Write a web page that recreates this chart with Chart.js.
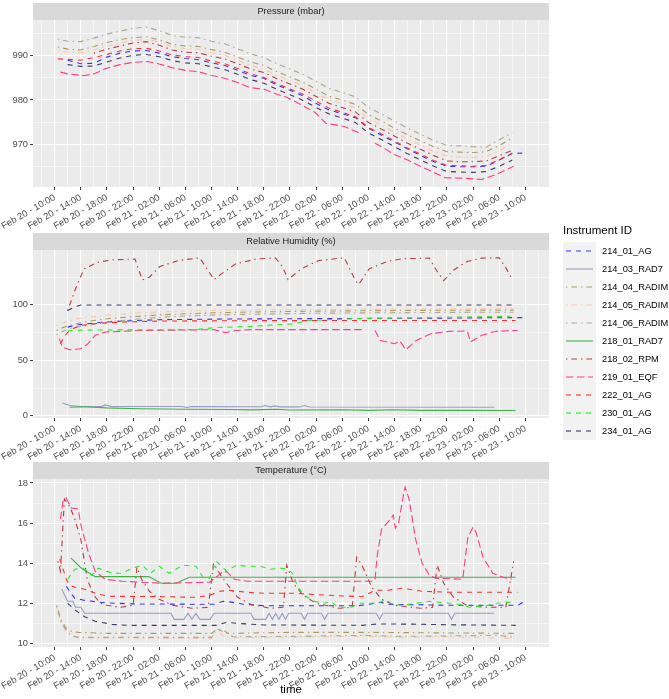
<!DOCTYPE html>
<html>
<head>
<meta charset="utf-8">
<script src="https://cdn.jsdelivr.net/npm/chart.js@4.4.1/dist/chart.umd.min.js"></script>
<style>
  html, body { margin: 0; padding: 0; background: #ffffff; }
  #wrap { position: relative; width: 669px; height: 699px; }
  #wrap canvas { position: absolute; left: 0; top: 0; }
</style>
</head>
<body>
<div id="wrap">
  <canvas id="pressureChart" width="669" height="699"></canvas>
  <canvas id="humidityChart" width="669" height="699"></canvas>
  <canvas id="temperatureChart" width="669" height="699"></canvas>
</div>
<script>
// hours counted from Feb 20 - 10:00
var instruments = ['214_01_AG', '214_03_RAD7', '214_04_RADIM', '214_05_RADIM', '214_06_RADIM',
    '218_01_RAD7', '218_02_RPM', '219_01_EQF', '222_01_AG', '230_01_AG', '234_01_AG'];

var xTickLabels = ['Feb 20 - 10:00', 'Feb 20 - 14:00', 'Feb 20 - 18:00', 'Feb 20 - 22:00',
    'Feb 21 - 02:00', 'Feb 21 - 06:00', 'Feb 21 - 10:00', 'Feb 21 - 14:00', 'Feb 21 - 18:00',
    'Feb 21 - 22:00', 'Feb 22 - 02:00', 'Feb 22 - 06:00', 'Feb 22 - 10:00', 'Feb 22 - 14:00',
    'Feb 22 - 18:00', 'Feb 22 - 22:00', 'Feb 23 - 02:00', 'Feb 23 - 06:00', 'Feb 23 - 10:00'];

// ---- Pressure (mbar) ----
var pressHours = [0.5, 2, 4, 6, 8, 10, 12, 14, 16, 18, 20, 22, 24, 26, 28, 30, 32, 34, 36, 38,
    40, 42, 44, 46, 48, 50, 52, 54, 56, 58, 60, 62, 64, 66, 68, 70, 72];
var p214_01 = [null, 989.0, 988.2, 988.3, 989.7, 990.6, 991.1, 991.2, 990.6, 989.8, 989.4, 989.1, 988.4, 987.8, 986.7, 985.5, 984.9, 983.4, 982.2, 980.9, 979.2, 977.7, 976.9, 976.0, 973.6, 972.0, 970.5, 968.9, 967.4, 966.0, 965.0, 964.9, 964.9, 965.0, 966.4, 967.9, 968.0];
var p214_04 = [992.0, 991.5, 991.3, 992.1, 993.0, 993.7, 994.1, 994.3, 993.6, 992.6, 992.2, 992.1, 991.4, 990.8, 989.7, 988.6, 987.8, 986.4, 985.2, 984.0, 982.4, 980.8, 980.0, 979.0, 976.7, 975.2, 973.6, 972.1, 970.7, 969.4, 968.3, 968.2, 968.1, 968.3, 969.7, 971.4, null];
var p214_05 = [991.1, 990.8, 990.7, 991.3, 992.2, 992.9, 993.5, 993.7, 993.1, 992.0, 991.6, 991.5, 990.7, 990.1, 989.0, 987.8, 987.0, 985.6, 984.4, 983.2, 981.6, 980.0, 979.2, 978.2, 975.8, 974.3, 972.7, 971.1, 969.7, 968.3, 967.3, 967.1, 967.0, 967.2, 968.6, 970.3, null];
var p214_06 = [993.8, 993.3, 993.2, 994.0, 994.9, 995.6, 996.2, 996.5, 995.7, 994.6, 994.2, 994.1, 993.3, 992.7, 991.6, 990.4, 989.6, 988.2, 987.0, 985.8, 984.2, 982.6, 981.7, 980.7, 978.3, 976.8, 975.2, 973.6, 972.2, 970.8, 969.7, 969.6, 969.4, 969.3, 971.0, 972.6, null];
var p218_02 = [null, null, null, 990.6, 991.5, 992.2, 992.9, 993.2, 992.4, 991.3, 990.8, 990.7, 989.9, 989.3, 988.2, 987.0, 986.2, 984.8, 983.6, 982.4, 980.8, 979.2, 978.3, 977.3, 974.9, 973.4, 971.8, 970.2, 968.8, 967.4, 966.2, 966.0, 966.0, 966.2, 967.4, 968.6, null];
var p222_01 = [989.3, 989.2, 989.0, 989.6, 990.3, 991.1, 991.6, 991.7, 991.1, 990.2, 989.8, 989.6, 988.8, 988.2, 987.1, 985.9, 985.1, 983.7, 982.5, 981.3, 979.7, 978.1, 977.2, 976.2, 973.8, 972.3, 970.7, 969.1, 967.7, 966.3, 965.2, 965.1, 965.0, 965.2, 966.5, 968.0, null];
var p234_01 = [null, 988.0, 987.6, 987.7, 988.6, 989.5, 990.1, 990.3, 989.8, 988.9, 988.4, 988.2, 987.5, 986.9, 985.8, 984.6, 983.8, 982.4, 981.2, 979.9, 978.3, 976.8, 975.9, 974.9, 972.5, 971.0, 969.4, 967.8, 966.4, 965.0, 963.8, 963.7, 963.6, 963.8, 965.0, 966.4, null];
// the EQF has a short gap, so it keeps its own hours: [hour, value]
var p219_01 = [[0.9, 986.3], [2, 985.9], [4.5, 985.5], [6, 985.9], [7.8, 987.1], [10, 988.0], [12, 988.5], [14.2, 988.7], [16.1, 988.1], [18, 987.3], [20, 986.7], [22, 986.4], [23.9, 985.6], [26, 984.9], [27.7, 984.1], [29.9, 982.8], [32.1, 982.4], [34, 981.3], [35.5, 980.6], [38, 978.7], [39.9, 977.1], [41.5, 974.7], [44.3, 974.0], [46, 972.9], [47, 972.2], [48, null], [49, 970.2], [50, 969.4], [52, 967.6], [54, 966.4], [55.9, 965.0], [58, 963.6], [59.7, 962.4], [62, 962.3], [63.6, 962.2], [65.3, 962.0], [67.5, 963.1], [70.2, 965.0]];

// ---- Relative Humidity (%) : [hour, value] ----
var h214_01 = [[2, 80], [3, 81.5], [5, 83], [7.5, 84.5], [10.5, 85.5], [16, 86.7], [24, 87.2], [40, 87.7], [56, 88], [72, 88.6]];
var h214_03 = [[1.2, 11.7], [2.3, 9.3], [4, 8.4], [7.2, 8.6], [7.8, 9.9], [8.6, 8.6], [19.5, 8.4], [20.2, 7.6], [21, 8.4], [31.5, 8.3], [32.2, 9.3], [33, 8.1], [33.7, 9.0], [34.5, 8.1], [37.5, 8.1], [38.2, 9.3], [39, 8.0], [67.2, 7.8]];
var h214_04 = [[0.3, 77], [1, 79], [2, 81], [4, 84], [6, 86], [8, 87.5], [12, 89.5], [16, 91], [20, 92], [24, 92.8], [30, 93.6], [36, 94.1], [42, 94.5], [48, 94.8], [54, 95], [60, 95.2], [66, 95.3], [70.2, 95.3]];
var h214_05 = [[0.3, 81.5], [1, 83], [2, 85.5], [4, 88], [6, 89.5], [8, 90.7], [12, 92.5], [16, 93.7], [20, 94.5], [24, 95], [30, 95.5], [36, 95.8], [42, 96], [48, 96.2], [54, 96.3], [60, 96.4], [70.2, 96.4]];
var h214_06 = [[0.3, 73], [1, 75.5], [2, 78], [4, 80.5], [6, 82.5], [8, 84.5], [12, 87], [16, 88.8], [20, 90], [24, 90.8], [30, 91.6], [36, 92.2], [42, 92.6], [48, 92.9], [54, 93.1], [60, 93.3], [70.2, 93.4]];
var h218_01 = [[2.3, 7.8], [4, 8.3], [6, 7.8], [8, 7.2], [13, 6.4], [20, 6.0], [27, 5.8], [30, 5.4], [34, 6.0], [36, 5.3], [44, 5.5], [48, 5.0], [52, 5.6], [56, 5.0], [62, 5.0], [70.5, 4.8]];
var h218_02 = [[2, 94.9], [3.1, 113], [4.5, 132.5], [6.7, 138.6], [8.9, 140.7], [12.3, 141.3], [13.4, 122.6], [14.5, 125], [16.1, 134.6], [18.9, 140], [22.2, 142.5], [23.3, 132.5], [24.4, 122.9], [25.5, 128], [27.7, 137], [31, 141.6], [33.8, 142.2], [34.9, 134], [35.7, 122.9], [37.7, 132.5], [40.4, 140], [44.3, 142.5], [46, 122], [46.5, 118.4], [48.1, 132.5], [50.9, 139.2], [53.1, 141.6], [57.3, 142.2], [58.4, 131], [59.5, 122], [60.9, 131], [63.1, 139.2], [65.3, 142.2], [68, 142.5], [69.1, 132.5], [70, 122.9]];
var h219_01 = [[0.7, 69.6], [1.2, 62], [2.3, 59.6], [4, 60.5], [5.1, 65], [6.2, 72.6], [7.8, 75.6], [13.4, 77], [24.4, 77.7], [25.2, 76.5], [26.1, 75], [27.7, 77], [30, 77.7], [47.3, 77.7], [48, null], [49, 77], [49.8, 68], [52, 65], [52.8, 67.5], [53.7, 59.6], [55.3, 68], [57.5, 74], [60.3, 76.2], [63.1, 76.5], [63.6, 66.6], [65.3, 72.6], [67.5, 76.2], [70.8, 77]];
var h222_01 = [[0.9, 65], [1.5, 72], [2.3, 77], [3.5, 80.5], [5.5, 83], [10.5, 84.6], [16, 85.5], [30, 85.8], [50, 86], [70.5, 86]];
var h230_01 = [[2, 76.5], [4, 77.3], [10, 77.5], [21.6, 77.8], [24.4, 79.5], [30, 80.7], [36.6, 83], [38.8, 86], [46.5, 87.7], [57.5, 88.6], [69.7, 89.8]];
var h234_01 = [[2, 95], [3, 98], [4, 100], [70, 100]];

// ---- Temperature (°C) : [hour, value] ----
var t214_01 = [[1.8, 12.85], [2.5, 12.5], [3.1, 12.25], [4.5, 12.15], [7.8, 12.02], [12, 11.97], [24.4, 11.95], [25.8, 12.1], [26.8, 12.07], [28.9, 11.95], [32, 11.88], [46.5, 11.88], [48, 11.95], [49.8, 12.05], [51, 11.95], [60, 11.9], [70.8, 11.9], [71.9, 12.1]];
var t214_03 = [[1.1, 12.7], [2, 12.1], [2.8, 12.1], [3.2, 11.8], [4, 11.8], [4.6, 11.5], [17.8, 11.5], [18.3, 11.2], [19.8, 11.2], [20.4, 11.5], [21, 11.2], [21.6, 11.5], [22.2, 11.2], [23.8, 11.2], [24.4, 11.5], [30, 11.5], [30.5, 11.2], [32.3, 11.2], [32.8, 11.5], [33.3, 11.2], [33.8, 11.5], [34.3, 11.2], [34.8, 11.5], [35.3, 11.2], [35.8, 11.5], [37.7, 11.5], [38.2, 11.2], [38.7, 11.5], [40.8, 11.5], [41.3, 11.2], [41.8, 11.5], [49.2, 11.5], [49.7, 11.2], [50.2, 11.5], [60.2, 11.5], [60.7, 11.2], [61.2, 11.5], [67.2, 11.5]];
var t214_04 = [[0.3, 11.9], [1, 11.17], [1.8, 10.75], [2.6, 10.6], [3.6, 10.55], [8, 10.5], [24, 10.5], [24.7, 10.67], [25.8, 10.67], [26.5, 10.5], [36, 10.55], [47.5, 10.55], [70.2, 10.5]];
var t214_05 = [[0.3, 11.8], [1, 11.0], [1.8, 10.6], [2.3, 10.4], [3.6, 10.28], [24, 10.25], [24.6, 10.55], [25.5, 10.45], [26.3, 10.28], [47.5, 10.35], [53, 10.3], [60.4, 10.33], [70.2, 10.25]];
var t214_06 = [[0.3, 11.85], [1, 11.05], [1.8, 10.65], [2.6, 10.4], [3.6, 10.3], [24, 10.3], [24.7, 10.75], [26.3, 10.5], [27.3, 10.33], [36, 10.35], [47.5, 10.4], [53, 10.35], [68, 10.4], [70.2, 10.3]];
var t218_01 = [[2.5, 14.25], [4.1, 13.75], [6.2, 13.33], [14.4, 13.33], [16.3, 13.0], [18.6, 13.0], [20.6, 13.3], [70.5, 13.3]];
var t218_02 = [[0.5, 14.1], [0.9, 13.6], [1.5, 17.2], [2.2, 16.9], [3, 16.3], [4, 15.2], [5, 13.2], [6, 12.4], [7, 12.0], [8, 11.9], [10, 11.8], [12, 11.9], [12.6, 13.8], [13.3, 13.2], [14.5, 12.6], [16, 12.2], [18, 11.9], [21, 11.75], [23.5, 11.8], [24.3, 14.0], [25, 13.6], [26.5, 12.9], [28, 12.3], [30, 11.95], [33, 11.75], [35, 11.8], [35.5, 13.9], [36.5, 13.0], [38, 12.4], [40, 12.0], [43.5, 11.75], [45.5, 11.8], [46.2, 14.3], [47, 13.9], [48.5, 12.8], [50, 12.2], [52, 11.9], [56, 11.75], [57.8, 11.8], [58.5, 13.9], [59.5, 13.0], [61, 12.3], [63, 11.9], [66, 11.8], [69, 11.8], [70.2, 14.1]];
var t219_01 = [[0.9, 16.2], [1.3, 17.1], [1.8, 17.25], [2.3, 16.9], [2.6, 16.75], [3.6, 16.7], [4.1, 15.8], [5.2, 14.5], [6.2, 13.6], [7.7, 13.2], [10.3, 13.1], [16.5, 13.0], [23.7, 13.05], [24.7, 13.3], [25.8, 13.6], [26.4, 13.55], [27.5, 13.2], [29.4, 13.1], [48.7, 13.1], [49, 13.2], [49.3, 14.3], [50, 15.7], [51.1, 16.1], [51.8, 16.4], [52.1, 15.75], [52.6, 16.0], [53.4, 17.5], [53.6, 17.8], [54.2, 17.2], [55.2, 15.2], [56.2, 14.0], [57.3, 13.4], [58.3, 13.25], [62.4, 13.2], [62.7, 14.0], [63.2, 15.3], [64, 15.8], [64.5, 15.5], [65.5, 14.3], [67, 13.5], [68.6, 13.3], [69.9, 13.2]];
var t222_01 = [[0.8, 14.2], [1, 14.0], [1.8, 13.2], [2.3, 12.9], [3.1, 12.8], [4.6, 12.7], [6.2, 12.5], [8.2, 12.35], [16.5, 12.33], [21.6, 12.3], [23.7, 12.4], [25.3, 12.6], [26.8, 12.65], [29.4, 12.55], [32, 12.5], [36.6, 12.5], [41.8, 12.4], [47, 12.33], [49, 12.65], [51, 12.65], [53.1, 12.75], [54.2, 12.7], [56.2, 12.6], [60.4, 12.55], [70.8, 12.55]];
var t230_01 = [[2, 13.2], [3.1, 13.7], [4.4, 13.75], [5.7, 13.4], [6.7, 13.75], [8.8, 13.5], [10.3, 13.5], [11.9, 13.75], [13.4, 13.9], [14.7, 13.5], [16, 13.85], [17.5, 13.5], [19.6, 13.9], [21.6, 13.85], [22.7, 13.3], [23.7, 13.25], [24.7, 14.1], [26.3, 13.6], [27.8, 13.9], [29.4, 13.85], [31.4, 13.85], [33, 13.7], [34.6, 13.75], [35.6, 13.7], [36.4, 13.5], [37.2, 12.8], [38.2, 12.4], [39.7, 12.1], [41.3, 12.0], [42.3, 12.1], [43.3, 11.8], [45.4, 11.8], [46.4, 12.0], [49.5, 12.0], [50.6, 12.2], [51.6, 11.95], [53.1, 11.9], [55.2, 12.0], [57.3, 12.1], [60.4, 12.0], [61.9, 11.95], [63.4, 11.8], [65.5, 11.85], [67.6, 12.0], [69.7, 12.05]];
var t234_01 = [[2, 12.0], [3.1, 11.67], [4.6, 11.33], [6.2, 11.1], [8.8, 10.95], [11.3, 10.9], [24.7, 10.9], [26.3, 11.05], [27.8, 11.0], [32, 10.92], [47, 10.9], [49.5, 10.97], [54.7, 10.96], [60, 10.93], [70.5, 10.9]];

// styles, one per instrument
var seriesColors = ['#3030ff', '#9b9bc5', '#ad9a5c', '#ffc3a8', '#a9a98f', '#3cb44b',
    '#b83c3c', '#ff3d80', '#ff2e2e', '#22ee22', '#3b3b6b'];
var dashed = [5, 5], dotdash = [1.4, 4, 5.6, 4], longdash = [7.5, 3.5];
var seriesDash = [dashed, [], dotdash, dotdash, dotdash, [], dotdash, longdash, dashed, dashed, dashed];

var fontFamily = '"Liberation Sans", Arial, Helvetica, sans-serif';
Chart.defaults.font.family = fontFamily;

function zipHours(values) {
    return pressHours.map(function(h, i) { return {x: h, y: values[i]}; });
}
function toPoints(pairs) {
    return pairs.map(function(p) { return {x: p[0], y: p[1]}; });
}

// x ticks every 2 h: majors (labelled) every 4 h, minors in between
var xGrid = [];
for (var v = -2; v <= 74; v += 2) xGrid.push(v);
function isMajorX(v) { return v % 4 === 0 && v >= 0 && v <= 72; }

var panelPlugin = {
    id: 'panel',
    beforeDraw: function(chart, args, opts) {
        var a = chart.chartArea, ctx = chart.ctx;
        ctx.save();
        ctx.fillStyle = '#ebebeb';
        ctx.fillRect(a.left, a.top, a.right - a.left, a.bottom - a.top);
        ctx.fillStyle = '#d9d9d9';
        ctx.fillRect(a.left, a.top - 17, a.right - a.left, 17);
        ctx.fillStyle = '#1a1a1a';
        ctx.font = '9.3px ' + fontFamily;
        ctx.textAlign = 'center';
        ctx.textBaseline = 'middle';
        ctx.fillText(opts.title, (a.left + a.right) / 2, a.top - 8.5);
        if (opts.xTitle) {
            ctx.fillStyle = '#000000';
            ctx.font = '11.5px ' + fontFamily;
            ctx.fillText(opts.xTitle, (a.left + a.right) / 2, 690);
        }
        ctx.restore();
    }
};

var legendPlugin = {
    id: 'instrumentLegend',
    afterDraw: function(chart) {
        var ctx = chart.ctx;
        ctx.save();
        ctx.fillStyle = '#000000';
        ctx.font = '11.5px ' + fontFamily;
        ctx.textAlign = 'left';
        ctx.textBaseline = 'middle';
        ctx.fillText('Instrument ID', 563, 231);
        ctx.fillStyle = '#f2f2f2';
        ctx.fillRect(563, 242, 33, instruments.length * 18);
        ctx.font = '9.3px ' + fontFamily;
        instruments.forEach(function(name, i) {
            var y = 251 + i * 18;
            ctx.strokeStyle = seriesColors[i];
            ctx.lineWidth = 1.1;
            ctx.setLineDash(seriesDash[i]);
            ctx.beginPath();
            ctx.moveTo(566, y);
            ctx.lineTo(593, y);
            ctx.stroke();
            ctx.setLineDash([]);
            ctx.fillStyle = '#000000';
            ctx.fillText(name, 602, y);
        });
        ctx.restore();
    }
};

function makePanel(canvasId, title, series, yMin, yMax, yGrid, yMajor, top, bottom, extra) {
    var datasets = [];
    instruments.forEach(function(name, i) {
        if (!series[name]) return;
        datasets.push({
            label: name,
            data: series[name],
            borderColor: seriesColors[i],
            borderDash: seriesDash[i],
            borderWidth: 1.1,
            pointRadius: 0,
            fill: false,
            tension: 0,
            spanGaps: false,
            order: instruments.length - i
        });
    });
    var tickFont = {size: 9.3, family: fontFamily};
    return new Chart(document.getElementById(canvasId).getContext('2d'), {
        type: 'line',
        data: {datasets: datasets},
        plugins: [panelPlugin].concat(extra || []),
        options: {
            responsive: false,
            animation: false,
            events: [],
            devicePixelRatio: 1,
            layout: {padding: {left: 0, right: 120, top: top, bottom: 699 - bottom - 45}},
            plugins: {
                legend: {display: false},
                tooltip: {enabled: false},
                panel: {title: title, xTitle: extra && extra.xTitle}
            },
            scales: {
                x: {
                    type: 'linear',
                    min: -3.3,
                    max: 75.6,
                    afterBuildTicks: function(scale) {
                        scale.ticks = xGrid.map(function(v) { return {value: v}; });
                    },
                    afterFit: function(scale) { scale.height = 45; },
                    border: {display: false},
                    grid: {
                        color: '#ffffff',
                        lineWidth: function(c) { return isMajorX(c.tick.value) ? 1.1 : 0.55; },
                        tickColor: function(c) { return isMajorX(c.tick.value) ? '#333333' : 'rgba(0,0,0,0)'; },
                        tickLength: 3,
                        tickWidth: 1
                    },
                    ticks: {
                        autoSkip: false,
                        maxRotation: 30,
                        minRotation: 30,
                        padding: 2,
                        color: '#4d4d4d',
                        font: tickFont,
                        callback: function(value) {
                            return isMajorX(value) ? xTickLabels[value / 4] : '';
                        }
                    }
                },
                y: {
                    type: 'linear',
                    min: yMin,
                    max: yMax,
                    afterBuildTicks: function(scale) {
                        scale.ticks = yGrid.map(function(v) { return {value: v}; });
                    },
                    afterFit: function(scale) { scale.width = 33; },
                    border: {display: false},
                    grid: {
                        color: '#ffffff',
                        lineWidth: function(c) { return yMajor.indexOf(c.tick.value) >= 0 ? 1.1 : 0.55; },
                        tickColor: function(c) { return yMajor.indexOf(c.tick.value) >= 0 ? '#333333' : 'rgba(0,0,0,0)'; },
                        tickLength: 3,
                        tickWidth: 1
                    },
                    ticks: {
                        autoSkip: false,
                        padding: 2,
                        color: '#4d4d4d',
                        font: tickFont,
                        callback: function(value) {
                            return yMajor.indexOf(value) >= 0 ? String(value) : '';
                        }
                    }
                }
            }
        }
    });
}

makePanel('pressureChart', 'Pressure (mbar)', {
    '214_01_AG': zipHours(p214_01),
    '214_04_RADIM': zipHours(p214_04),
    '214_05_RADIM': zipHours(p214_05),
    '214_06_RADIM': zipHours(p214_06),
    '218_02_RPM': zipHours(p218_02),
    '219_01_EQF': toPoints(p219_01),
    '222_01_AG': zipHours(p222_01),
    '234_01_AG': zipHours(p234_01)
}, 960.3, 998.1, [965, 970, 975, 980, 985, 990, 995], [970, 980, 990], 20, 187);

makePanel('humidityChart', 'Relative Humidity (%)', {
    '214_01_AG': toPoints(h214_01),
    '214_03_RAD7': toPoints(h214_03),
    '214_04_RADIM': toPoints(h214_04),
    '214_05_RADIM': toPoints(h214_05),
    '214_06_RADIM': toPoints(h214_06),
    '218_01_RAD7': toPoints(h218_01),
    '218_02_RPM': toPoints(h218_02),
    '219_01_EQF': toPoints(h219_01),
    '222_01_AG': toPoints(h222_01),
    '230_01_AG': toPoints(h230_01),
    '234_01_AG': toPoints(h234_01)
}, -1.9, 149.5, [0, 25, 50, 75, 100, 125], [0, 50, 100], 250, 418, [legendPlugin]);

var timeTitle = [];
timeTitle.xTitle = 'time';
makePanel('temperatureChart', 'Temperature (°C)', {
    '214_01_AG': toPoints(t214_01),
    '214_03_RAD7': toPoints(t214_03),
    '214_04_RADIM': toPoints(t214_04),
    '214_05_RADIM': toPoints(t214_05),
    '214_06_RADIM': toPoints(t214_06),
    '218_01_RAD7': toPoints(t218_01),
    '218_02_RPM': toPoints(t218_02),
    '219_01_EQF': toPoints(t219_01),
    '222_01_AG': toPoints(t222_01),
    '230_01_AG': toPoints(t230_01),
    '234_01_AG': toPoints(t234_01)
}, 9.82, 18.2, [10, 11, 12, 13, 14, 15, 16, 17, 18], [10, 12, 14, 16, 18], 479, 647, timeTitle);
</script>
</body>
</html>
